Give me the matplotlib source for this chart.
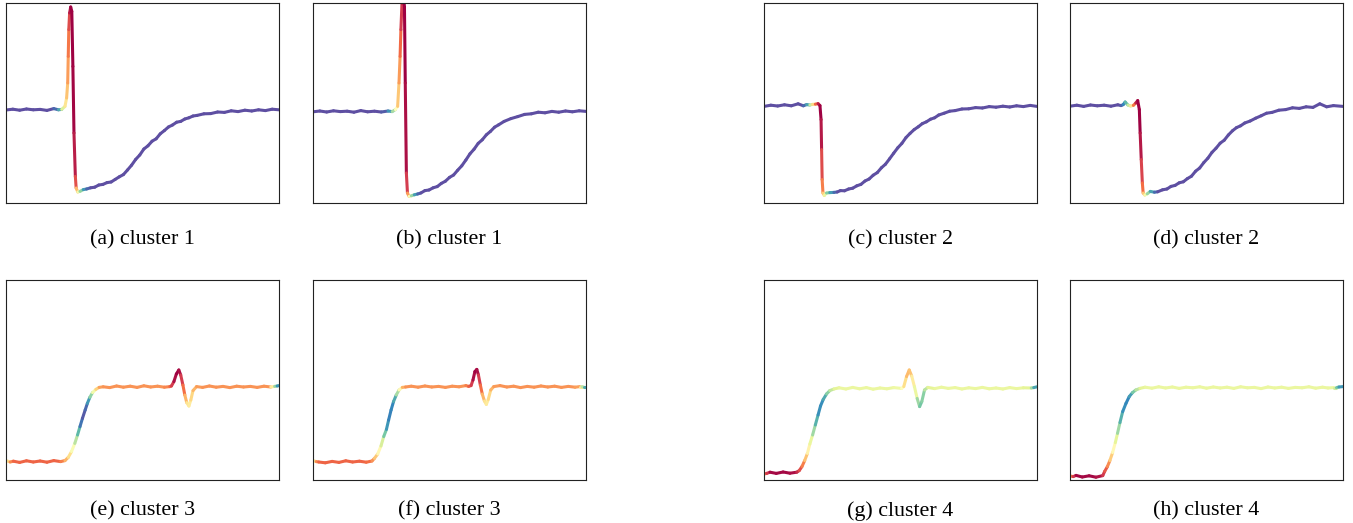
"""Cluster prototypes coloured by importance (Spectral colour map)."""
import numpy as np
import matplotlib
matplotlib.use("Agg")
import matplotlib.pyplot as plt
from matplotlib.collections import LineCollection

# each point: (time in % of window, amplitude in % of axis, importance 0..1)
CLUSTER1_A = [
    (0, 46.5, 0), (2.5, 46.9, 0), (5, 46.4, 0), (7.5, 47.0, 0), (10, 46.6, 0),
    (12.5, 46.8, 0), (15, 46.3, 0), (17.5, 47.2, 0), (19.2, 46.6, 0.1),
    (20.4, 46.8, 0.22), (21.6, 48.3, 0.55), (22.2, 52.5, 0.62), (22.6, 60, 0.7),
    (22.8, 73.3, 0.75), (23.0, 86.7, 0.82), (23.3, 95, 0.92), (23.7, 98, 1.0),
    (24.1, 95.8, 1.0), (24.5, 68.3, 1.0), (24.9, 35, 0.98), (25.4, 13.3, 0.92),
    (25.7, 7.5, 0.8), (26.3, 5.5, 0.55), (27.1, 5.8, 0.35), (28.3, 6.7, 0.18),
    (29.5, 7.0, 0.08), (31.0, 7.6, 0), (32.5, 7.9, 0), (34.0, 9.0, 0),
    (35.5, 9.3, 0), (37.0, 10.2, 0), (38.5, 10.5, 0), (40.0, 11.8, 0),
    (41.5, 13.1, 0), (43.0, 14.2, 0), (44.5, 16.5, 0), (46.0, 18.9, 0),
    (47.5, 21.8, 0), (49.0, 24.0, 0), (50.5, 27.0, 0), (52.0, 28.6, 0),
    (53.5, 30.9, 0), (55.0, 32.1, 0), (56.5, 34.6, 0), (58.0, 36.2, 0),
    (59.5, 38.0, 0), (61.0, 39.0, 0), (62.5, 40.4, 0), (64.0, 40.8, 0),
    (65.5, 42.0, 0), (67.0, 42.6, 0), (68.5, 43.5, 0), (70.0, 43.8, 0),
    (72.5, 44.6, 0), (75, 44.7, 0), (77.5, 45.5, 0), (80, 45.3, 0),
    (82.5, 46.1, 0), (85, 45.7, 0), (87.5, 46.4, 0), (90, 46.0, 0),
    (92.5, 46.6, 0), (95, 46.2, 0), (97.5, 46.9, 0), (100, 46.6, 0),
]

CLUSTER1_B = [
    (0, 45.6, 0), (2.5, 46.0, 0), (5, 45.5, 0), (7.5, 46.1, 0), (10, 45.7, 0),
    (12.5, 45.9, 0), (15, 45.4, 0), (17.5, 46.2, 0), (20, 45.6, 0),
    (22.5, 45.9, 0), (25, 45.5, 0), (27.5, 46.0, 0.05), (29.0, 45.7, 0.2),
    (30.2, 46.7, 0.4), (31.0, 48.3, 0.6), (31.5, 60, 0.7), (31.9, 73.3, 0.76),
    (32.2, 86.7, 0.85), (32.6, 100, 0.95), (33.0, 106, 1.0), (33.5, 98, 1.0),
    (33.8, 60, 1.0), (34.2, 15, 0.95), (34.6, 5.0, 0.85), (35.2, 3.3, 0.6),
    (36.0, 3.6, 0.35), (37.1, 4.1, 0.2), (38.3, 4.5, 0.08), (39.5, 5.0, 0),
    (41.0, 6.2, 0), (42.5, 6.5, 0), (44.0, 7.6, 0), (45.5, 8.2, 0),
    (47.0, 9.8, 0), (48.5, 10.9, 0), (50.0, 12.8, 0), (51.5, 14.0, 0),
    (53.0, 16.4, 0), (54.5, 18.6, 0), (56.0, 21.5, 0), (57.5, 24.6, 0),
    (59.0, 26.9, 0), (60.5, 29.8, 0), (62.0, 31.6, 0), (63.5, 34.1, 0),
    (65.0, 35.8, 0), (66.5, 37.9, 0), (68.0, 39.1, 0), (70.0, 40.8, 0),
    (72.5, 42.2, 0), (75, 43.2, 0), (77.5, 44.3, 0), (80, 44.6, 0),
    (82.5, 45.4, 0), (85, 45.1, 0), (87.5, 45.8, 0), (90, 45.4, 0),
    (92.5, 46.0, 0), (95, 45.6, 0), (97.5, 46.1, 0), (100, 45.8, 0),
]

CLUSTER2_C = [
    (0, 48.3, 0), (2.5, 48.9, 0), (5, 48.5, 0), (7.5, 49.1, 0), (10, 48.6, 0),
    (12.5, 49.6, 0), (14.4, 48.6, 0), (15.6, 49.2, 0.1), (16.8, 49.0, 0.2),
    (17.8, 49.3, 0.5), (18.8, 49.4, 0.72), (19.8, 49.7, 0.9), (20.5, 48.7, 1.0),
    (20.9, 41.7, 1.0), (21.1, 26.7, 0.92), (21.3, 11.7, 0.82), (21.6, 5.0, 0.72),
    (22.1, 3.8, 0.55), (22.9, 5.0, 0.3), (24.1, 5.2, 0.18), (25.6, 5.3, 0.1),
    (26.8, 5.5, 0), (28.0, 6.2, 0), (29.5, 6.1, 0), (31.0, 7.0, 0),
    (32.5, 7.4, 0), (34.0, 8.6, 0), (35.5, 9.3, 0), (37.0, 11.0, 0),
    (38.5, 12.0, 0), (40.0, 13.9, 0), (41.5, 15.2, 0), (43.0, 17.6, 0),
    (44.5, 19.4, 0), (46.0, 22.1, 0), (47.5, 24.9, 0), (49.0, 27.6, 0),
    (50.5, 29.8, 0), (52.0, 32.7, 0), (53.5, 34.8, 0), (55.0, 36.7, 0),
    (56.5, 38.1, 0), (58.0, 39.7, 0), (59.5, 40.6, 0), (61.0, 41.9, 0),
    (62.5, 42.6, 0), (64.0, 44.0, 0), (66.0, 44.9, 0), (68.0, 45.9, 0),
    (70.0, 46.2, 0), (72.5, 47.0, 0), (75, 47.1, 0), (77.5, 47.7, 0),
    (80, 47.5, 0), (82.5, 48.2, 0), (85, 47.9, 0), (87.5, 48.4, 0),
    (90, 48.0, 0), (92.5, 48.6, 0), (95, 48.2, 0), (97.5, 48.8, 0),
    (100, 48.3, 0),
]

CLUSTER2_D = [
    (0, 48.4, 0), (2.5, 48.9, 0), (5, 48.3, 0), (7.5, 49.0, 0), (10, 48.6, 0),
    (12.5, 48.9, 0), (15, 48.4, 0), (17.5, 49.1, 0), (18.7, 48.7, 0),
    (19.5, 49.2, 0.08), (20.2, 50.5, 0.12), (21.2, 49.0, 0.25), (22.2, 48.5, 0.45),
    (23.2, 48.8, 0.7), (24.1, 50.0, 0.88), (24.8, 51.2, 1.0), (25.4, 46.7, 1.0),
    (25.7, 35, 1.0), (26.1, 21.7, 0.92), (26.5, 10, 0.85), (26.8, 5.0, 0.75),
    (27.4, 4.0, 0.55), (28.3, 4.6, 0.35), (29.4, 5.8, 0.2), (30.9, 5.4, 0.1),
    (32.1, 5.6, 0), (33.9, 6.6, 0), (35.5, 7.0, 0), (37.0, 8.3, 0),
    (38.5, 8.8, 0), (40.0, 10.1, 0), (41.5, 10.6, 0), (43.0, 12.2, 0),
    (44.5, 13.4, 0), (46.0, 15.9, 0), (47.5, 17.5, 0), (49.0, 20.2, 0),
    (50.5, 22.4, 0), (52.0, 25.3, 0), (53.5, 27.4, 0), (55.0, 29.9, 0),
    (56.5, 31.4, 0), (58.0, 34.0, 0), (59.5, 36.1, 0), (61.0, 37.7, 0),
    (62.5, 38.6, 0), (64.0, 40.0, 0), (66.0, 41.0, 0), (68.0, 42.4, 0),
    (70.0, 43.6, 0), (72.0, 44.9, 0), (74.0, 45.3, 0), (76.5, 46.4, 0),
    (79, 46.7, 0), (81.5, 47.6, 0), (84, 47.3, 0), (86.5, 48.1, 0),
    (89, 47.8, 0), (91.5, 49.6, 0), (94, 48.1, 0), (96.5, 48.7, 0),
    (100, 48.3, 0),
]

CLUSTER3_E = [
    (0, 9.7, 0.5), (1.5, 9.0, 0.7), (2.7, 9.4, 0.82), (5, 8.8, 0.82),
    (7.5, 9.6, 0.82), (10, 9.0, 0.82), (12.5, 9.5, 0.82), (15, 8.9, 0.82),
    (17.5, 9.7, 0.82), (20, 9.2, 0.82), (21.6, 9.7, 0.72), (22.8, 11.3, 0.65),
    (24.0, 14.2, 0.55), (25.2, 18.3, 0.4), (26.2, 22.5, 0.25), (27.1, 26.7, 0.12),
    (28.0, 30.8, 0.02), (29.0, 35.0, 0.02), (29.8, 38.3, 0.08), (30.7, 41.3, 0.18),
    (31.7, 43.7, 0.35), (32.9, 45.3, 0.55), (34.1, 46.3, 0.7), (35.6, 46.6, 0.74),
    (38, 46.2, 0.74), (40.5, 47.0, 0.74), (43, 46.4, 0.74), (45.5, 46.9, 0.74),
    (48, 46.3, 0.74), (50.5, 47.1, 0.74), (53, 46.5, 0.74), (55.5, 46.9, 0.74),
    (58, 46.4, 0.74), (60.0, 46.7, 0.78), (60.6, 47.0, 0.85), (61.5, 49.2, 0.95),
    (62.4, 53.0, 1.0), (63.3, 55.0, 1.0), (64.0, 52.5, 0.95), (64.8, 47.5, 0.85),
    (65.5, 42.5, 0.75), (66.2, 38.7, 0.62), (67.0, 37.0, 0.55), (67.7, 40.0, 0.58),
    (68.5, 44.7, 0.65), (69.8, 46.7, 0.72), (72, 46.3, 0.74), (74.5, 47.0, 0.74),
    (77, 46.4, 0.74), (79.5, 46.8, 0.74), (82, 46.2, 0.74), (84.5, 46.9, 0.74),
    (87, 46.5, 0.74), (89.5, 46.8, 0.74), (92, 46.3, 0.74), (94.5, 46.9, 0.74),
    (97.0, 46.5, 0.74), (98.4, 46.8, 0.4), (99.3, 47.0, 0.15), (100, 47.2, 0.1),
]

CLUSTER3_F = [
    (0, 9.7, 0.5), (1.2, 9.2, 0.7), (2.1, 9.0, 0.82), (4.5, 8.6, 0.82),
    (7, 9.3, 0.82), (9.5, 8.8, 0.82), (12, 9.6, 0.82), (14.5, 9.0, 0.82),
    (17, 9.4, 0.82), (19.5, 8.9, 0.82), (21.6, 9.5, 0.78), (22.5, 10.8, 0.7),
    (23.7, 13.0, 0.6), (24.9, 17.0, 0.45), (25.9, 21.7, 0.3), (26.9, 25.3, 0.15),
    (27.7, 30.0, 0.1), (28.6, 35.0, 0.08), (29.5, 39.2, 0.12), (30.5, 42.5, 0.2),
    (31.5, 45.0, 0.4), (32.7, 46.3, 0.65), (33.9, 46.5, 0.74), (36, 46.9, 0.74),
    (38.5, 46.4, 0.74), (41, 47.0, 0.74), (43.5, 46.5, 0.74), (46, 46.8, 0.74),
    (48.5, 46.3, 0.74), (51, 46.9, 0.74), (53.5, 46.6, 0.74), (56, 47.2, 0.74),
    (57.0, 46.8, 0.8), (57.9, 47.2, 0.85), (58.6, 50.0, 0.95), (59.3, 54.2, 1.0),
    (60.0, 55.3, 1.0), (60.6, 52.5, 0.95), (61.3, 47.5, 0.85), (62.0, 43.0, 0.75),
    (62.8, 39.5, 0.62), (63.5, 37.8, 0.55), (64.2, 40.3, 0.58), (65.1, 45.0, 0.65),
    (66.2, 46.7, 0.72), (68.5, 47.2, 0.74), (71, 46.5, 0.74), (73.5, 46.9, 0.74),
    (76, 46.2, 0.74), (78.5, 46.8, 0.74), (81, 46.4, 0.74), (83.5, 47.0, 0.74),
    (86, 46.5, 0.74), (88.5, 46.9, 0.74), (91, 46.3, 0.74), (93.5, 46.8, 0.74),
    (96, 46.4, 0.74), (97.7, 46.7, 0.7), (98.5, 46.7, 0.45), (99.1, 46.5, 0.2),
    (100, 46.5, 0.12),
]

CLUSTER4_G = [
    (0, 3.0, 0.75), (1.0, 3.3, 0.85), (2.2, 3.9, 0.97), (4.5, 3.3, 1.0),
    (7, 4.0, 0.97), (9.5, 3.4, 1.0), (12.0, 3.9, 0.95), (12.9, 4.7, 0.9),
    (13.9, 6.7, 0.82), (14.9, 9.7, 0.72), (15.9, 13.3, 0.6), (16.8, 18.0, 0.48),
    (17.8, 22.5, 0.35), (18.8, 27.5, 0.22), (19.8, 32.5, 0.13), (20.7, 37.0, 0.1),
    (21.7, 40.3, 0.12), (22.9, 43.0, 0.2), (24.1, 44.7, 0.3), (25.6, 45.5, 0.38),
    (27.5, 46.1, 0.42), (30, 45.5, 0.42), (32.5, 46.3, 0.42), (35, 45.6, 0.42),
    (37.5, 46.2, 0.42), (40, 45.4, 0.42), (42.5, 46.0, 0.42), (45, 45.6, 0.42),
    (47.5, 46.2, 0.42), (50.4, 45.8, 0.45), (51.2, 46.7, 0.55), (52.2, 51.7, 0.65),
    (53.2, 55.0, 0.7), (54.1, 52.0, 0.62), (55.1, 46.7, 0.5), (56.1, 40.8, 0.35),
    (57.0, 36.7, 0.22), (57.8, 39.2, 0.22), (58.8, 45.0, 0.28), (60.0, 46.3, 0.38),
    (62.5, 45.7, 0.42), (65, 46.4, 0.42), (67.5, 45.8, 0.42), (70, 46.2, 0.42),
    (72.5, 45.5, 0.42), (75, 46.1, 0.42), (77.5, 45.7, 0.42), (80, 46.3, 0.42),
    (82.5, 45.6, 0.42), (85, 46.0, 0.42), (87.5, 45.5, 0.42), (90, 46.2, 0.42),
    (92.5, 45.7, 0.42), (95, 46.1, 0.42), (97.9, 46.0, 0.38), (98.8, 46.2, 0.2),
    (100, 46.6, 0.1),
]

CLUSTER4_H = [
    (0, 2.0, 0.75), (1.2, 1.7, 0.85), (2.2, 2.3, 0.97), (4.5, 1.5, 1.0),
    (7, 2.1, 0.97), (9.5, 1.4, 1.0), (12.0, 2.2, 0.93), (12.7, 4.3, 0.88),
    (13.7, 6.7, 0.8), (14.6, 9.7, 0.7), (15.6, 13.7, 0.58), (16.6, 18.7, 0.46),
    (17.4, 23.3, 0.35), (18.3, 28.7, 0.22), (19.3, 34.2, 0.12), (20.5, 38.3, 0.1),
    (21.7, 41.7, 0.1), (22.9, 43.7, 0.18), (24.1, 45.0, 0.28), (25.6, 45.8, 0.38),
    (27.5, 46.4, 0.42), (30, 45.9, 0.42), (32.5, 46.6, 0.42), (35, 46.0, 0.42),
    (37.5, 46.5, 0.42), (40, 45.8, 0.42), (42.5, 46.4, 0.42), (45, 46.1, 0.42),
    (47.5, 46.6, 0.42), (50, 45.9, 0.42), (52.5, 46.5, 0.42), (55, 46.0, 0.42),
    (57.5, 46.4, 0.42), (60, 45.8, 0.42), (62.5, 46.6, 0.42), (65, 46.1, 0.42),
    (67.5, 46.3, 0.42), (70, 45.7, 0.42), (72.5, 46.5, 0.42), (75, 46.0, 0.42),
    (77.5, 46.4, 0.42), (80, 45.8, 0.42), (82.5, 46.3, 0.42), (85, 46.1, 0.42),
    (87.5, 46.6, 0.42), (90, 45.9, 0.42), (92.5, 46.4, 0.42), (94.5, 46.0, 0.42),
    (96.7, 46.2, 0.42), (97.6, 46.2, 0.3), (98.5, 46.5, 0.15), (100, 46.7, 0.1),
]

PANELS = [CLUSTER1_A, CLUSTER1_B, CLUSTER2_C, CLUSTER2_D,
          CLUSTER3_E, CLUSTER3_F, CLUSTER4_G, CLUSTER4_H]
CAPTIONS = ["(a) cluster 1", "(b) cluster 1", "(c) cluster 2", "(d) cluster 2",
            "(e) cluster 3", "(f) cluster 3", "(g) cluster 4", "(h) cluster 4"]

# layout in pixels of the 1353x523 canvas
W, H = 1353, 523
LEFTS = [6, 313, 764, 1070]
TOPS = [3, 280]
AX_W, AX_H = 273, 200
CAP_Y = [239.5, 511]


def draw(ax, pts):
    t, y, v = (np.array(c, dtype=float) for c in zip(*pts))
    xy = np.column_stack([t, y])
    segs = np.stack([xy[:-1], xy[1:]], axis=1)
    lc = LineCollection(segs, cmap="Spectral_r", norm=plt.Normalize(0, 1),
                        linewidth=2.2, capstyle="round", joinstyle="round")
    lc.set_array((v[:-1] + v[1:]) / 2)
    ax.add_collection(lc)
    ax.set_xlim(0, 100)
    ax.set_ylim(0, 100)
    ax.set_xticks([])
    ax.set_yticks([])
    for s in ax.spines.values():
        s.set_linewidth(0.8)
        s.set_color("#222222")


def main() -> None:
    fig = plt.figure(figsize=(W / 100, H / 100), dpi=100)
    for i, (pts, cap) in enumerate(zip(PANELS, CAPTIONS)):
        row, col = divmod(i, 4)
        left, top = LEFTS[col], TOPS[row]
        ax = fig.add_axes([left / W, 1 - (top + AX_H) / H, AX_W / W, AX_H / H])
        draw(ax, pts)
        fig.text((left + AX_W / 2) / W, 1 - CAP_Y[row] / H, cap,
                 ha="center", va="center", fontsize=15.8,
                 family="Liberation Serif")
    fig.savefig("out.png", dpi=100)
    plt.close(fig)


if __name__ == "__main__":
    main()
